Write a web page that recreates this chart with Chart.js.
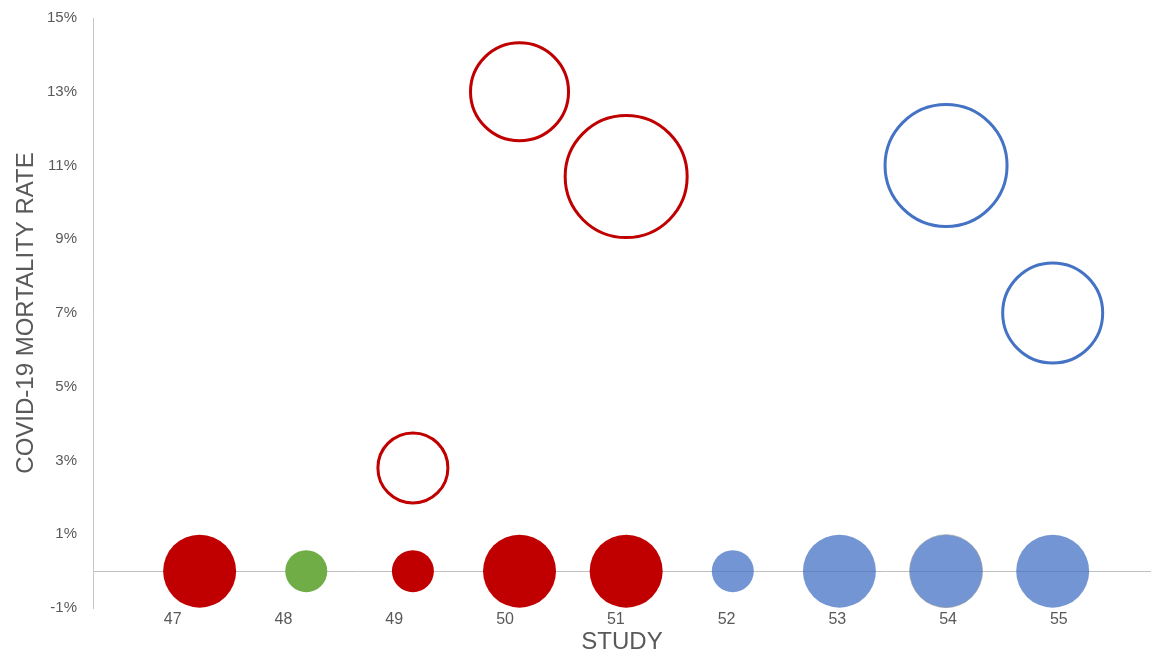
<!DOCTYPE html>
<html>
<head>
<meta charset="utf-8">
<script src="https://cdn.jsdelivr.net/npm/chart.js@4/dist/chart.umd.min.js"></script>
<style>
  html, body { margin: 0; padding: 0; background: #ffffff; }
  #wrap { width: 1151px; height: 654px; }
</style>
</head>
<body>
<div id="wrap"><canvas id="chart" width="1151" height="654"></canvas></div>
<script>
// Study identifiers and their position along the horizontal axis
const studies = ['47', '48', '49', '50', '51', '52', '53', '54', '55'];
const studyPos = [1, 2, 3, 4, 5, 6, 7, 8, 9];

// Baseline row (0%): bubble size and group of each study
const baseRates = [0, 0, 0, 0, 0, 0, 0, 0, 0];
const baseSizes = [36.5, 21, 21, 36.5, 36.5, 21, 36.5, 36.5, 36.5];
const baseGroup = ['red', 'green', 'red', 'red', 'red', 'blue', 'blue', 'blue', 'blue'];

// Reported COVID-19 mortality (%), open bubbles
const openStudies = ['49', '50', '51', '54', '55'];
const openRates = [2.8, 13.0, 10.7, 11.0, 7.0];
const openSizes = [35, 49, 61, 61, 50];
const openGroup = ['red', 'red', 'red', 'blue', 'blue'];

// Y axis ticks (%)
const yMin = -1, yMax = 15, yLabelStep = 2;

const fills = { red: '#C00000', green: '#70AD47', blue: 'rgba(68,114,196,0.75)' };
const strokes = { red: '#C00000', green: '#70AD47', blue: '#4472C4' };
const textColor = '#595959';
const axisGray = '#C6C6C6';
const font = 'Liberation Sans, Arial, sans-serif';

const posOf = s => studyPos[studies.indexOf(s)];

const baseData = studies.map((s, i) => ({ x: studyPos[i], y: baseRates[i], r: baseSizes[i] }));
const openData = openStudies.map((s, i) => ({ x: posOf(s), y: openRates[i], r: openSizes[i] }));

new Chart(document.getElementById('chart'), {
  type: 'bubble',
  data: {
    datasets: [
      {
        label: 'Baseline',
        data: baseData,
        backgroundColor: baseGroup.map(g => fills[g]),
        borderColor: baseGroup.map((g, i) => i === 7 ? 'rgba(150,150,150,0.6)' : 'rgba(0,0,0,0)'),
        borderWidth: baseGroup.map((g, i) => i === 7 ? 1 : 0),
        clip: false
      },
      {
        label: 'Mortality',
        data: openData,
        backgroundColor: 'rgba(255,255,255,0)',
        borderColor: openGroup.map(g => strokes[g]),
        borderWidth: 3,
        clip: false
      }
    ]
  },
  options: {
    responsive: false,
    devicePixelRatio: 1,
    animation: false,
    events: [],
    layout: { autoPadding: false, padding: { top: 18, right: 0, left: 0, bottom: 0 } },
    plugins: { legend: { display: false }, tooltip: { enabled: false } },
    elements: { point: { hoverRadius: 0, hitRadius: 0 } },
    scales: {
      x: {
        type: 'linear',
        display: false,
        min: 0,
        max: 9.922
      },
      study: {
        type: 'linear',
        position: 'bottom',
        min: 0.28,
        max: 9.832,
        grid: { display: false, drawTicks: false },
        border: { display: false },
        afterFit: s => { s.height = 46; },
        afterBuildTicks: s => { s.ticks = studyPos.map(v => ({ value: v })); },
        ticks: {
          autoSkip: false,
          maxRotation: 0,
          padding: 2,
          color: textColor,
          font: { family: font, size: 16 },
          callback: v => studies[studyPos.indexOf(v)] ?? ''
        },
        title: {
          display: true,
          text: 'STUDY',
          color: textColor,
          font: { family: font, size: 24, lineHeight: 1.0 },
          padding: { top: 0, bottom: 0 }
        }
      },
      y: {
        type: 'linear',
        min: yMin,
        max: yMax,
        afterFit: s => { s.width = 93; },
        ticks: {
          stepSize: 1,
          autoSkip: false,
          padding: 0,
          color: textColor,
          font: { family: font, size: 15 },
          callback: v => ((v - yMin) % yLabelStep === 0 ? v + '%' : '')
        },
        grid: {
          drawTicks: true,
          tickLength: 16,
          tickColor: 'rgba(0,0,0,0)',
          color: ctx => (ctx.tick && ctx.tick.value === 0 ? '#C0C0C0' : 'rgba(0,0,0,0)'),
          lineWidth: 1
        },
        border: { display: true, color: axisGray, width: 1 },
        title: {
          display: true,
          text: 'COVID-19 MORTALITY RATE',
          color: textColor,
          font: { family: font, size: 24 },
          padding: { top: 12, bottom: 0 }
        }
      }
    }
  }
});
</script>
</body>
</html>
